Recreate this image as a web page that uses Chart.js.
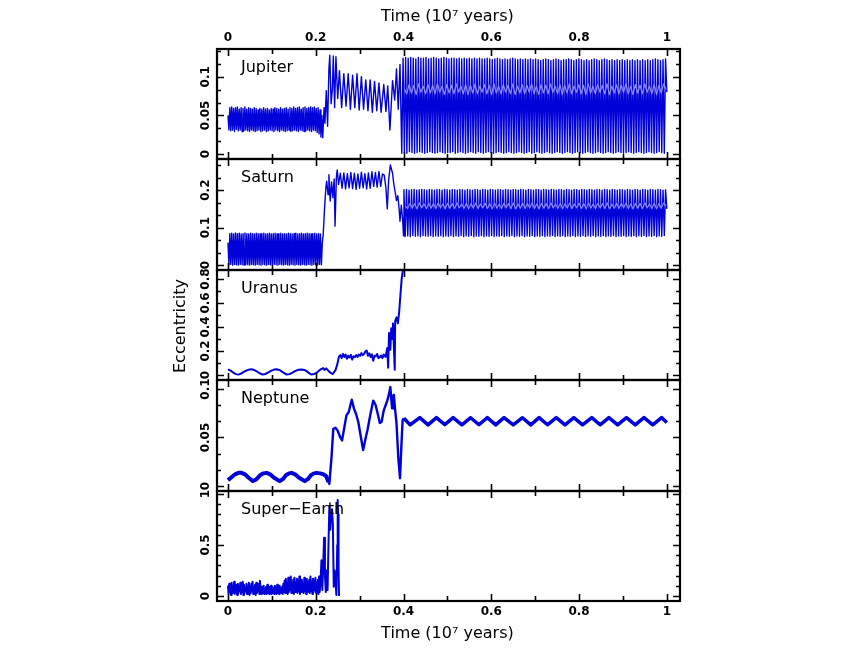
<!DOCTYPE html>
<html><head><meta charset="utf-8">
<script src="https://cdn.jsdelivr.net/npm/chart.js@4/dist/chart.umd.min.js"></script>
<style>
html,body{margin:0;padding:0;background:#fff;}
#wrap{position:relative;width:864px;height:654px;background:#fff;}
#wrap canvas{position:absolute;left:0;top:0;}
</style></head><body><div id="wrap">
<canvas id="c0" width="864" height="654"></canvas>
<canvas id="c1" width="864" height="654"></canvas>
<canvas id="c2" width="864" height="654"></canvas>
<canvas id="c3" width="864" height="654"></canvas>
<canvas id="c4" width="864" height="654"></canvas>
</div>
<script>
// ---------------- DATA (time in 10^7 years, eccentricity) ----------------
const planetNames = ['Jupiter','Saturn','Uranus','Neptune','Super\u2212Earth'];
const xTickValues = [0,0.2,0.4,0.6,0.8,1];
const xTickLabels = ['0','0.2','0.4','0.6','0.8','1'];
const jupiterTicks = [0,0.05,0.1];
const saturnTicks = [0,0.1,0.2];
const uranusTicks = [0,0.2,0.4,0.6,0.8];
const neptuneTicks = [0,0.05,0.1];
const superEarthTicks = [0,0.5,1];

// Jupiter: fast oscillation 0 -> 0.214
const jupiterEarlyE = [0.050,0.031,0.060,0.030,0.061,0.031,0.059,0.029,0.060,0.032,
 0.061,0.030,0.058,0.031,0.060,0.029,0.059,0.030,0.061,0.031,
 0.058,0.030,0.060,0.029,0.059,0.031,0.058,0.030,0.060,0.029,
 0.059,0.030,0.057,0.031,0.059,0.029,0.058,0.030,0.060,0.031,
 0.058,0.029,0.059,0.030,0.057,0.031,0.059,0.030,0.058,0.029,
 0.060,0.031,0.059,0.030,0.058,0.029,0.060,0.031,0.058,0.030,
 0.059,0.029,0.060,0.030,0.058,0.031,0.060,0.029,0.059,0.030,
 0.061,0.031,0.059,0.030,0.060,0.029,0.061,0.031,0.058,0.030,
 0.060,0.029,0.061,0.030,0.059,0.031,0.060,0.030,0.061,0.029,
 0.060,0.031,0.061,0.030,0.059,0.028,0.060,0.026,0.057,0.022,0.050];
const jupiterMidT = [0.216,0.219,0.221,0.224,0.227,0.230,0.232,0.235,0.238,0.240,0.243,0.246,0.250,0.254,0.259,0.264,0.269,0.274,0.279,0.284,0.289,0.294,0.299,0.304,0.309,0.314,0.319,0.324,0.329,0.334,0.339,0.344,0.349,0.355,0.360,0.364,0.369,0.375,0.380,0.384,0.388,0.392,0.396];
const jupiterMidE = [0.021,0.060,0.040,0.082,0.036,0.110,0.128,0.065,0.085,0.127,0.060,0.126,0.072,0.108,0.060,0.104,0.062,0.104,0.058,0.102,0.060,0.104,0.057,0.100,0.058,0.096,0.056,0.096,0.054,0.094,0.056,0.092,0.054,0.090,0.055,0.088,0.031,0.095,0.070,0.110,0.058,0.116,0.001];
// Jupiter: large oscillation 0.399 -> 1.0
const jupiterLateE = [
 0.124,0.002,0.125,0.001,0.124,0.003,0.125,0.002,0.124,0.001,0.123,0.002,0.125,0.003,0.124,0.002,
 0.124,0.001,0.125,0.002,0.123,0.003,0.124,0.002,0.125,0.001,0.124,0.002,0.123,0.003,0.124,0.002,
 0.125,0.001,0.124,0.002,0.123,0.002,0.124,0.003,0.124,0.001,0.123,0.002,0.124,0.003,0.123,0.002,
 0.124,0.001,0.123,0.002,0.124,0.003,0.123,0.002,0.124,0.001,0.123,0.003,0.124,0.002,0.123,0.001,
 0.123,0.002,0.124,0.003,0.123,0.002,0.122,0.001,0.123,0.002,0.124,0.003,0.123,0.002,0.122,0.001,
 0.123,0.002,0.122,0.003,0.123,0.002,0.124,0.001,0.123,0.002,0.122,0.003,0.123,0.002,0.122,0.001,
 0.123,0.002,0.122,0.003,0.123,0.001,0.122,0.002,0.123,0.003,0.122,0.002,0.121,0.001,0.122,0.002,
 0.123,0.003,0.122,0.002,0.121,0.001,0.122,0.002,0.123,0.003,0.122,0.002,0.121,0.001,0.122,0.002,
 0.122,0.003,0.123,0.002,0.122,0.001,0.121,0.002,0.122,0.003,0.123,0.002,0.122,0.001,0.121,0.002,
 0.122,0.003,0.121,0.002,0.122,0.001,0.123,0.002,0.122,0.003,0.121,0.002,0.122,0.001,0.123,0.002,
 0.122,0.003,0.121,0.002,0.122,0.001,0.121,0.002,0.122,0.003,0.121,0.002,0.122,0.001,0.121,0.002,
 0.122,0.003,0.121,0.002,0.122,0.001,0.121,0.002,0.122,0.003,0.121,0.002,0.122,0.001,0.121,0.002,
 0.122,0.003,0.121,0.002,0.122,0.001,0.123,0.002,0.122,0.003,0.121,0.002,0.122,0.001,0.123,0.080];
// lighter fine-structure band seen in the middle of Jupiter's late oscillation
const jupiterBandE = [
 0.084,0.078,0.090,0.079,0.089,0.077,0.091,0.080,0.088,0.078,0.090,0.079,0.089,0.078,0.091,0.080,
 0.088,0.077,0.090,0.079,0.089,0.078,0.091,0.080,0.088,0.078,0.090,0.077,0.089,0.079,0.091,0.078,
 0.088,0.080,0.090,0.078,0.089,0.077,0.091,0.079,0.088,0.078,0.090,0.080,0.089,0.078,0.091,0.077,
 0.088,0.079,0.090,0.078,0.089,0.080,0.091,0.078,0.088,0.077,0.090,0.079,0.089,0.078,0.091,0.080,
 0.088,0.078,0.090,0.077,0.089,0.079,0.091,0.078,0.088,0.080,0.090,0.078,0.089,0.077,0.091,0.079,
 0.088,0.078,0.090,0.080,0.089,0.078,0.091,0.077,0.088,0.079,0.090,0.078,0.089,0.080,0.091,0.078,
 0.088,0.077,0.090,0.079,0.089,0.078,0.091,0.080,0.088,0.078,0.090,0.077,0.089,0.079,0.091,0.084];

// Saturn
const saturnEarlyE = [0.060,0.001,0.084,0.002,0.085,0.000,0.083,0.002,0.086,0.001,
 0.084,0.000,0.085,0.002,0.083,0.001,0.084,0.000,0.086,0.002,
 0.084,0.001,0.083,0.000,0.085,0.002,0.084,0.001,0.083,0.000,
 0.085,0.002,0.084,0.001,0.083,0.000,0.084,0.002,0.085,0.001,
 0.083,0.000,0.084,0.002,0.085,0.001,0.083,0.000,0.084,0.002,
 0.085,0.001,0.083,0.000,0.084,0.002,0.085,0.001,0.083,0.000,
 0.084,0.002,0.083,0.001,0.085,0.000,0.084,0.002,0.083,0.001,
 0.084,0.000,0.085,0.002,0.083,0.001,0.084,0.000,0.085,0.002,
 0.083,0.001,0.084,0.000,0.085,0.002,0.084,0.001,0.083,0.000,
 0.084,0.002,0.085,0.001,0.083,0.000,0.084,0.002,0.083,0.001,0.060];
const saturnMidT = [0.217,0.220,0.223,0.225,0.228,0.230,0.233,0.236,0.239,0.242,0.244,0.247,0.249,0.252,0.256,0.260,0.264,0.268,0.272,0.276,0.280,0.284,0.288,0.292,0.296,0.300,0.304,0.308,0.312,0.316,0.320,0.324,0.328,0.332,0.336,0.340,0.344,0.348,0.352,0.356,0.360,0.363,0.366,0.370,0.375,0.378,0.381,0.384,0.387,0.390,0.392,0.395,0.398,0.400];
const saturnMidE = [0.081,0.150,0.205,0.224,0.188,0.241,0.171,0.222,0.180,0.230,0.104,0.235,0.254,0.215,0.245,0.205,0.246,0.203,0.244,0.206,0.247,0.204,0.245,0.202,0.243,0.205,0.248,0.206,0.244,0.203,0.246,0.205,0.249,0.210,0.247,0.208,0.250,0.210,0.243,0.240,0.205,0.150,0.225,0.267,0.245,0.215,0.195,0.172,0.185,0.150,0.117,0.160,0.120,0.078];
const saturnLateE = [
 0.201,0.077,0.202,0.078,0.200,0.076,0.201,0.079,0.202,0.077,0.200,0.078,0.201,0.076,0.202,0.079,
 0.201,0.078,0.200,0.077,0.202,0.079,0.201,0.076,0.200,0.078,0.202,0.077,0.201,0.079,0.200,0.076,
 0.202,0.078,0.201,0.077,0.200,0.079,0.202,0.076,0.201,0.078,0.200,0.077,0.202,0.079,0.201,0.076,
 0.200,0.078,0.202,0.077,0.201,0.079,0.200,0.076,0.202,0.078,0.201,0.077,0.200,0.079,0.202,0.076,
 0.201,0.078,0.200,0.077,0.202,0.079,0.201,0.076,0.200,0.078,0.202,0.077,0.201,0.079,0.200,0.076,
 0.202,0.078,0.201,0.077,0.200,0.079,0.202,0.076,0.201,0.078,0.200,0.077,0.202,0.079,0.201,0.076,
 0.200,0.078,0.202,0.077,0.201,0.079,0.200,0.076,0.202,0.078,0.201,0.077,0.200,0.079,0.202,0.076,
 0.201,0.078,0.200,0.077,0.202,0.079,0.201,0.076,0.200,0.078,0.202,0.077,0.201,0.079,0.200,0.076,
 0.202,0.078,0.201,0.077,0.200,0.079,0.202,0.076,0.201,0.078,0.200,0.077,0.202,0.079,0.201,0.076,
 0.200,0.078,0.202,0.077,0.201,0.079,0.200,0.076,0.202,0.078,0.201,0.077,0.200,0.079,0.202,0.076,
 0.201,0.078,0.200,0.077,0.202,0.079,0.201,0.076,0.200,0.078,0.202,0.077,0.201,0.079,0.200,0.076,
 0.202,0.078,0.201,0.077,0.200,0.079,0.202,0.076,0.201,0.078,0.200,0.077,0.202,0.079,0.201,0.076,
 0.200,0.078,0.202,0.077,0.201,0.079,0.200,0.076,0.202,0.078,0.201,0.077,0.200,0.079,0.201,0.150];
const saturnBandE = [
 0.158,0.151,0.165,0.152,0.164,0.150,0.166,0.153,0.163,0.151,0.165,0.152,0.164,0.151,0.166,0.153,
 0.163,0.150,0.165,0.152,0.164,0.151,0.166,0.153,0.163,0.151,0.165,0.150,0.164,0.152,0.166,0.151,
 0.163,0.153,0.165,0.151,0.164,0.150,0.166,0.152,0.163,0.151,0.165,0.153,0.164,0.151,0.166,0.150,
 0.163,0.152,0.165,0.151,0.164,0.153,0.166,0.151,0.163,0.150,0.165,0.152,0.164,0.151,0.166,0.153,
 0.163,0.151,0.165,0.150,0.164,0.152,0.166,0.151,0.163,0.153,0.165,0.151,0.164,0.150,0.166,0.152,
 0.163,0.151,0.165,0.153,0.164,0.151,0.166,0.150,0.163,0.152,0.165,0.151,0.164,0.153,0.166,0.151,
 0.163,0.150,0.165,0.152,0.164,0.151,0.166,0.153,0.163,0.151,0.165,0.150,0.164,0.152,0.166,0.158];

// Uranus
const uranusT = [0.000,0.006,0.012,0.018,0.023,0.029,0.036,0.043,0.049,0.054,0.060,0.067,0.073,0.079,0.085,0.092,0.099,0.105,0.111,0.117,0.123,0.129,0.134,0.140,0.147,0.154,0.161,0.168,0.174,0.180,0.185,0.190,0.196,0.202,0.210,0.217,0.220,0.224,0.230,0.235,0.239,0.242,0.245,0.249,0.253,0.256,0.259,0.262,0.265,0.268,0.271,0.274,0.277,0.280,0.283,0.286,0.289,0.292,0.295,0.298,0.301,0.304,0.307,0.310,0.313,0.316,0.319,0.322,0.325,0.328,0.331,0.334,0.337,0.340,0.343,0.346,0.349,0.352,0.355,0.359,0.363,0.365,0.367,0.370,0.372,0.374,0.376,0.380,0.381,0.384,0.387,0.390,0.393,0.396,0.399,0.402];
const uranusE = [0.047,0.036,0.020,0.007,0.003,0.010,0.025,0.038,0.046,0.047,0.041,0.027,0.012,0.004,0.008,0.022,0.036,0.045,0.047,0.042,0.028,0.013,0.004,0.007,0.020,0.034,0.043,0.046,0.042,0.030,0.015,0.004,0.008,0.018,0.044,0.058,0.042,0.055,0.030,0.015,0.008,0.025,0.040,0.086,0.155,0.165,0.140,0.175,0.150,0.170,0.135,0.160,0.145,0.168,0.128,0.155,0.148,0.165,0.150,0.170,0.160,0.182,0.165,0.175,0.195,0.203,0.160,0.180,0.150,0.172,0.118,0.160,0.155,0.175,0.140,0.150,0.162,0.140,0.170,0.150,0.225,0.060,0.350,0.210,0.390,0.300,0.430,0.044,0.450,0.480,0.430,0.520,0.670,0.810,0.880,0.950];

// Neptune
const neptuneEarlyT = [0.000,0.008,0.016,0.024,0.031,0.039,0.047,0.057,0.065,0.073,0.081,0.088,0.096,0.105,0.118,0.125,0.132,0.139,0.145,0.153,0.162,0.175,0.182,0.189,0.196,0.202,0.210,0.218,0.224,0.229];
const neptuneEarlyE = [0.0060,0.0090,0.0120,0.0135,0.0135,0.0120,0.0085,0.0050,0.0070,0.0110,0.0130,0.0135,0.0120,0.0085,0.0050,0.0070,0.0110,0.0130,0.0135,0.0120,0.0085,0.0050,0.0070,0.0110,0.0130,0.0135,0.0130,0.0120,0.0100,0.0040];
const neptuneMidT = [0.229,0.231,0.236,0.240,0.245,0.250,0.256,0.260,0.265,0.270,0.275,0.282,0.287,0.292,0.297,0.303,0.308,0.313,0.318,0.325,0.331,0.336,0.341,0.346,0.350,0.355,0.359,0.363,0.367,0.370,0.372,0.374,0.376,0.378,0.381,0.384,0.388,0.392,0.395,0.398,0.401];
const neptuneMidE = [0.004,0.002,0.030,0.059,0.060,0.057,0.050,0.047,0.060,0.073,0.076,0.089,0.080,0.074,0.066,0.050,0.037,0.048,0.058,0.075,0.088,0.084,0.075,0.065,0.066,0.078,0.083,0.088,0.095,0.102,0.090,0.080,0.093,0.094,0.078,0.065,0.030,0.008,0.040,0.068,0.0698];
const neptuneLateT = [0.401,0.415,0.437,0.456,0.475,0.494,0.513,0.533,0.553,0.572,0.591,0.610,0.629,0.650,0.671,0.690,0.709,0.728,0.748,0.768,0.788,0.808,0.829,0.848,0.868,0.888,0.908,0.928,0.948,0.968,0.988,1.000];
const neptuneLateE = [0.0698,0.0630,0.0705,0.0630,0.0705,0.0632,0.0705,0.0630,0.0704,0.0631,0.0705,0.0630,0.0705,0.0630,0.0704,0.0630,0.0705,0.0631,0.0705,0.0630,0.0704,0.0630,0.0705,0.0631,0.0705,0.0630,0.0704,0.0630,0.0705,0.0631,0.0705,0.0655];

// Super-Earth: noisy band 0 -> 0.209, then spikes
const superEarthEarlyE = [0.10,0.02,0.12,0.04,0.09,0.01,0.13,0.03,0.08,0.05,0.14,0.02,0.11,0.04,0.07,0.01,0.12,0.03,0.10,0.05,0.13,0.02,0.09,0.04,0.14,0.01,0.11,0.03,0.08,0.05,0.12,0.02,0.10,0.04,0.13,0.01,0.09,0.03,0.12,0.05,0.14,0.02,0.08,0.04,0.11,0.01,0.13,0.03,0.10,0.05,0.12,0.02,0.15,0.04,0.09,0.02,
 0.08,0.03,0.10,0.02,0.07,0.04,0.09,0.02,0.11,0.03,0.06,0.02,0.09,0.04,0.10,0.02,0.08,0.03,0.07,0.02,0.10,0.04,0.09,0.02,0.11,0.03,0.08,0.02,0.10,0.04,0.07,0.03,0.09,0.02,0.12,0.04,
 0.15,0.03,0.17,0.05,0.13,0.02,0.18,0.04,0.14,0.06,0.19,0.03,0.12,0.05,0.16,0.02,0.18,0.04,0.13,0.06,0.17,0.03,0.15,0.05,0.19,0.02,0.14,0.04,0.16,0.06,0.12,0.03,0.18,0.05,0.15,0.02,0.17,0.04,0.13,0.06,0.16,0.03,0.19,0.05,0.14,0.02,0.17,0.04,0.15,0.06,0.18,0.03,0.13,0.05,0.16,0.02,0.19,0.04];
const superEarthSpikeT = [0.211,0.213,0.215,0.217,0.219,0.221,0.223,0.225,0.227,0.229,0.231,0.233,0.235,0.237,0.239,0.241,0.243,0.245,0.247,0.249,0.250,0.251,0.252,0.253];
const superEarthSpikeE = [0.15,0.35,0.06,0.30,0.57,0.20,0.04,0.25,0.06,0.50,0.88,0.65,0.80,0.85,0.70,0.09,0.25,0.15,0.01,0.50,0.94,0.80,0.30,0.00];

// ---------------- helpers ----------------
function spread(t0, t1, vals){ const n = vals.length; return vals.map((v,i)=>({x: t0 + (t1 - t0) * i / (n - 1), y: v})); }
function pairs(ts, vs){ return ts.map((t,i)=>({x: t, y: vs[i]})); }

const BLUE = '#0000d8';
const LIGHT = 'rgba(150,150,255,0.9)';
const FONT = "'DejaVu Sans', sans-serif";
const AREA = {left:217, right:680};
const X_MIN = -0.025, X_MAX = 1.03;

const panels = [
  {name: planetNames[0], top:49, bottom:159, min:-0.0065, max:0.136, ticks: jupiterTicks, minorStep: 0.05/3,
   datasets: [
     {data: spread(0, 0.214, jupiterEarlyE).concat(pairs(jupiterMidT, jupiterMidE)).concat(spread(0.399, 1.0, jupiterLateE)), borderWidth: 1.4, order: 1},
     {data: spread(0.402, 0.998, jupiterBandE), borderWidth: 1.2, color: LIGHT, order: 0}
   ]},
  {name: planetNames[1], top:159, bottom:270, min:-0.013, max:0.283, ticks: saturnTicks, minorStep: 0.1/3,
   datasets: [
     {data: spread(0, 0.215, saturnEarlyE).concat(pairs(saturnMidT, saturnMidE)).concat(spread(0.401, 1.0, saturnLateE)), borderWidth: 1.4, order: 1},
     {data: spread(0.404, 0.998, saturnBandE), borderWidth: 1.2, color: LIGHT, order: 0}
   ]},
  {name: planetNames[2], top:270, bottom:380, min:-0.042, max:0.875, ticks: uranusTicks, minorStep: 0.1,
   datasets: [ {data: pairs(uranusT, uranusE), borderWidth: 2} ]},
  {name: planetNames[3], top:380, bottom:491, min:-0.0052, max:0.1093, ticks: neptuneTicks, minorStep: 0.05/3,
   datasets: [
     {data: pairs(neptuneEarlyT, neptuneEarlyE), borderWidth: 4},
     {data: pairs(neptuneMidT, neptuneMidE), borderWidth: 2.4},
     {data: pairs(neptuneLateT, neptuneLateE), borderWidth: 3.5}
   ]},
  {name: planetNames[4], top:491, bottom:601, min:-0.049, max:1.029, ticks: superEarthTicks, minorStep: 0.1,
   datasets: [
     {data: spread(0, 0.209, superEarthEarlyE).concat(pairs(superEarthSpikeT, superEarthSpikeE)), borderWidth: 2}
   ]}
];

function fmtTick(v){ return String(v); }

function makePlugin(p, idx){
  return {
    id: 'panelFrame' + idx,
    afterDatasetsDraw(chart){
      const ctx = chart.ctx, a = chart.chartArea, xs = chart.scales.x, ys = chart.scales.y;
      ctx.save();
      ctx.strokeStyle = '#000';
      ctx.lineWidth = 1.6;
      ctx.beginPath();
      for (let k = 0; k <= 10; k++) {
        const t = k / 10;
        const px = Math.round(xs.getPixelForValue(t)) + 0.5;
        const len = (k % 2 === 0) ? 7 : 5;
        ctx.moveTo(px, a.top); ctx.lineTo(px, a.top + len);
        ctx.moveTo(px, a.bottom); ctx.lineTo(px, a.bottom - len);
      }
      const majorSet = p.ticks;
      majorSet.forEach(v => {
        const py = Math.round(ys.getPixelForValue(v)) + 0.5;
        ctx.moveTo(a.left, py); ctx.lineTo(a.left + 7, py);
        ctx.moveTo(a.right, py); ctx.lineTo(a.right - 7, py);
      });
      const step = p.minorStep;
      for (let v = 0; v <= p.max + 1e-9; v += step) {
        if (majorSet.some(m => Math.abs(m - v) < 1e-6)) continue;
        const py = Math.round(ys.getPixelForValue(v)) + 0.5;
        ctx.moveTo(a.left, py); ctx.lineTo(a.left + 4, py);
        ctx.moveTo(a.right, py); ctx.lineTo(a.right - 4, py);
      }
      ctx.stroke();
      ctx.lineWidth = 2.2;
      ctx.strokeRect(a.left, a.top, a.right - a.left, a.bottom - a.top);
      ctx.restore();
    },
    afterDraw(chart){
      const ctx = chart.ctx, a = chart.chartArea, xs = chart.scales.x, ys = chart.scales.y;
      ctx.save();
      ctx.fillStyle = '#000';
      ctx.font = '16px ' + FONT;
      ctx.textAlign = 'left'; ctx.textBaseline = 'middle';
      ctx.fillText(p.name, 241, a.top + 18.5);
      ctx.font = 'bold 12px ' + FONT;
      p.ticks.forEach(v => {
        const py = ys.getPixelForValue(v);
        ctx.save();
        ctx.translate(206, py);
        ctx.rotate(-Math.PI / 2);
        ctx.textAlign = 'center'; ctx.textBaseline = 'middle';
        ctx.fillText(fmtTick(v), 0, 0);
        ctx.restore();
      });
      if (idx === 0 || idx === 4) {
        const ly = idx === 0 ? 37.5 : 612;
        const ty = idx === 0 ? 17 : 634;
        ctx.font = 'bold 12px ' + FONT;
        ctx.textAlign = 'center'; ctx.textBaseline = 'middle';
        xTickValues.forEach((t, i) => ctx.fillText(xTickLabels[i], xs.getPixelForValue(t), ly));
        ctx.font = '16px ' + FONT;
        ctx.fillText('Time (10\u2077 years)', xs.getPixelForValue(0.5), ty);
      }
      if (idx === 2) {
        ctx.font = '16px ' + FONT;
        ctx.save();
        ctx.translate(181, 326);
        ctx.rotate(-Math.PI / 2);
        ctx.textAlign = 'center'; ctx.textBaseline = 'middle';
        ctx.fillText('Eccentricity', 0, 0);
        ctx.restore();
      }
      ctx.restore();
    }
  };
}

panels.forEach((p, idx) => {
  const ctx = document.getElementById('c' + idx).getContext('2d');
  new Chart(ctx, {
    type: 'line',
    data: {
      datasets: p.datasets.map(d => ({
        data: d.data, borderColor: d.color || BLUE, borderWidth: d.borderWidth,
        order: d.order || 0,
        pointRadius: 0, tension: 0, fill: false, borderJoinStyle: 'round'
      }))
    },
    options: {
      responsive: false, animation: false, devicePixelRatio: 1,
      parsing: false, normalized: true,
      events: [],
      layout: { padding: { left: AREA.left, right: 864 - AREA.right, top: p.top, bottom: 654 - p.bottom } },
      plugins: { legend: { display: false }, tooltip: { enabled: false }, title: { display: false } },
      scales: {
        x: { type: 'linear', min: X_MIN, max: X_MAX, display: false },
        y: { type: 'linear', min: p.min, max: p.max, display: false }
      }
    },
    plugins: [makePlugin(p, idx)]
  });
});
</script>
</body></html>
